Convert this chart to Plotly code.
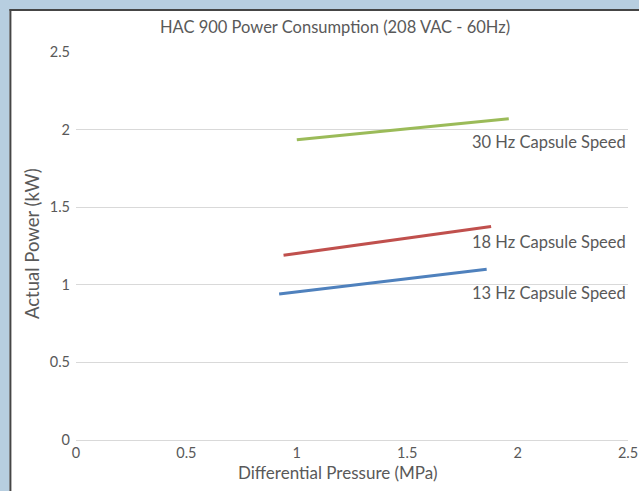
import plotly.graph_objects as go

# Data
series_names = ["13 Hz Capsule Speed", "18 Hz Capsule Speed", "30 Hz Capsule Speed"]
pressure_13 = [0.92, 1.86]
power_13 = [0.94, 1.10]
pressure_18 = [0.94, 1.88]
power_18 = [1.19, 1.375]
pressure_30 = [1.00, 1.96]
power_30 = [1.935, 2.07]
label_y = [0.947, 1.276, 1.92]
tick_vals = [0, 0.5, 1, 1.5, 2, 2.5]
tick_text = ["0", "0.5", "1", "1.5", "2", "2.5"]

colors = ["#4f81bd", "#c0504d", "#9bbb59"]
FONT = "Lato"
TXT = "#595959"
FRAME_BG = "#b7cee0"
FRAME_LINE = "#454545"

W, H = 639, 491
ML, MR, MT, MB = 76, 11, 52, 51
PW, PH = W - ML - MR, H - MT - MB

def px(x):
    return (x - ML) / PW

def py(y):
    return (H - MB - y) / PH

fig = go.Figure()
for xs, ys, c, n in zip([pressure_13, pressure_18, pressure_30],
                        [power_13, power_18, power_30], colors, series_names):
    fig.add_trace(go.Scatter(x=xs, y=ys, mode="lines", name=n,
                             line=dict(color=c, width=3)))

annotations = []
for n, ly in zip(series_names, label_y):
    annotations.append(dict(x=2.5, y=ly, xref="x", yref="y", text=n, showarrow=False,
                            xanchor="right", yanchor="middle",
                            font=dict(family=FONT, size=16.5, color=TXT)))
annotations.append(dict(x=px(338), y=py(473), xref="paper", yref="paper",
                        text="Differential Pressure (MPa)", showarrow=False,
                        xanchor="center", yanchor="middle",
                        font=dict(family=FONT, size=17, color=TXT)))
annotations.append(dict(x=px(32), y=py(244), xref="paper", yref="paper",
                        text="Actual Power (kW)", showarrow=False, textangle=-90,
                        xanchor="center", yanchor="middle",
                        font=dict(family=FONT, size=18.5, color=TXT)))

shapes = [
    # left frame strip
    dict(type="rect", xref="paper", yref="paper", x0=px(-20), x1=px(9.5), y0=py(-20), y1=py(H + 20),
         fillcolor=FRAME_BG, line=dict(width=0), layer="above"),
    # top frame strip
    dict(type="rect", xref="paper", yref="paper", x0=px(-20), x1=px(W + 20), y0=py(9), y1=py(-20),
         fillcolor=FRAME_BG, line=dict(width=0), layer="above"),
    # frame edge lines
    dict(type="line", xref="paper", yref="paper", x0=px(10.4), x1=px(10.4), y0=py(9), y1=py(H + 20),
         line=dict(color=FRAME_LINE, width=2), layer="above"),
    dict(type="line", xref="paper", yref="paper", x0=px(9.5), x1=px(W + 20), y0=py(10), y1=py(10),
         line=dict(color=FRAME_LINE, width=2), layer="above"),
]

fig.update_layout(
    width=W, height=H,
    margin=dict(l=ML, r=MR, t=MT, b=MB, pad=0, autoexpand=False),
    paper_bgcolor="white", plot_bgcolor="white",
    showlegend=False,
    title=dict(text="HAC 900 Power Consumption (208 VAC - 60Hz)", x=335 / W, xref="container",
               xanchor="center", y=1 - 27 / H, yref="container", yanchor="middle",
               font=dict(family=FONT, size=16.5, color=TXT)),
    font=dict(family=FONT, size=14, color=TXT),
    annotations=annotations,
    shapes=shapes,
)
fig.update_xaxes(range=[0, 2.5], tickvals=tick_vals, ticktext=tick_text, showgrid=False,
                 zeroline=False, showline=True, linecolor="#d9d9d9", linewidth=1, automargin=False,
                 ticks="", tickfont=dict(family=FONT, size=14.5, color=TXT))
fig.update_yaxes(range=[0, 2.5], tickvals=tick_vals, ticktext=tick_text, showgrid=True,
                 gridcolor="#d9d9d9", gridwidth=1, zeroline=False, showline=False, automargin=False,
                 ticks="", ticklabelstandoff=5, tickfont=dict(family=FONT, size=14.5, color=TXT))

fig.write_html(
    "out.html",
    config={"displayModeBar": False},
    post_script=(
        "document.documentElement.style.overflow='hidden';"
        "document.body.style.margin='0';"
        "document.body.style.overflow='hidden';"
        "document.body.style.height='491px';"
        "window.scrollTo(0,0);"
    ),
)
